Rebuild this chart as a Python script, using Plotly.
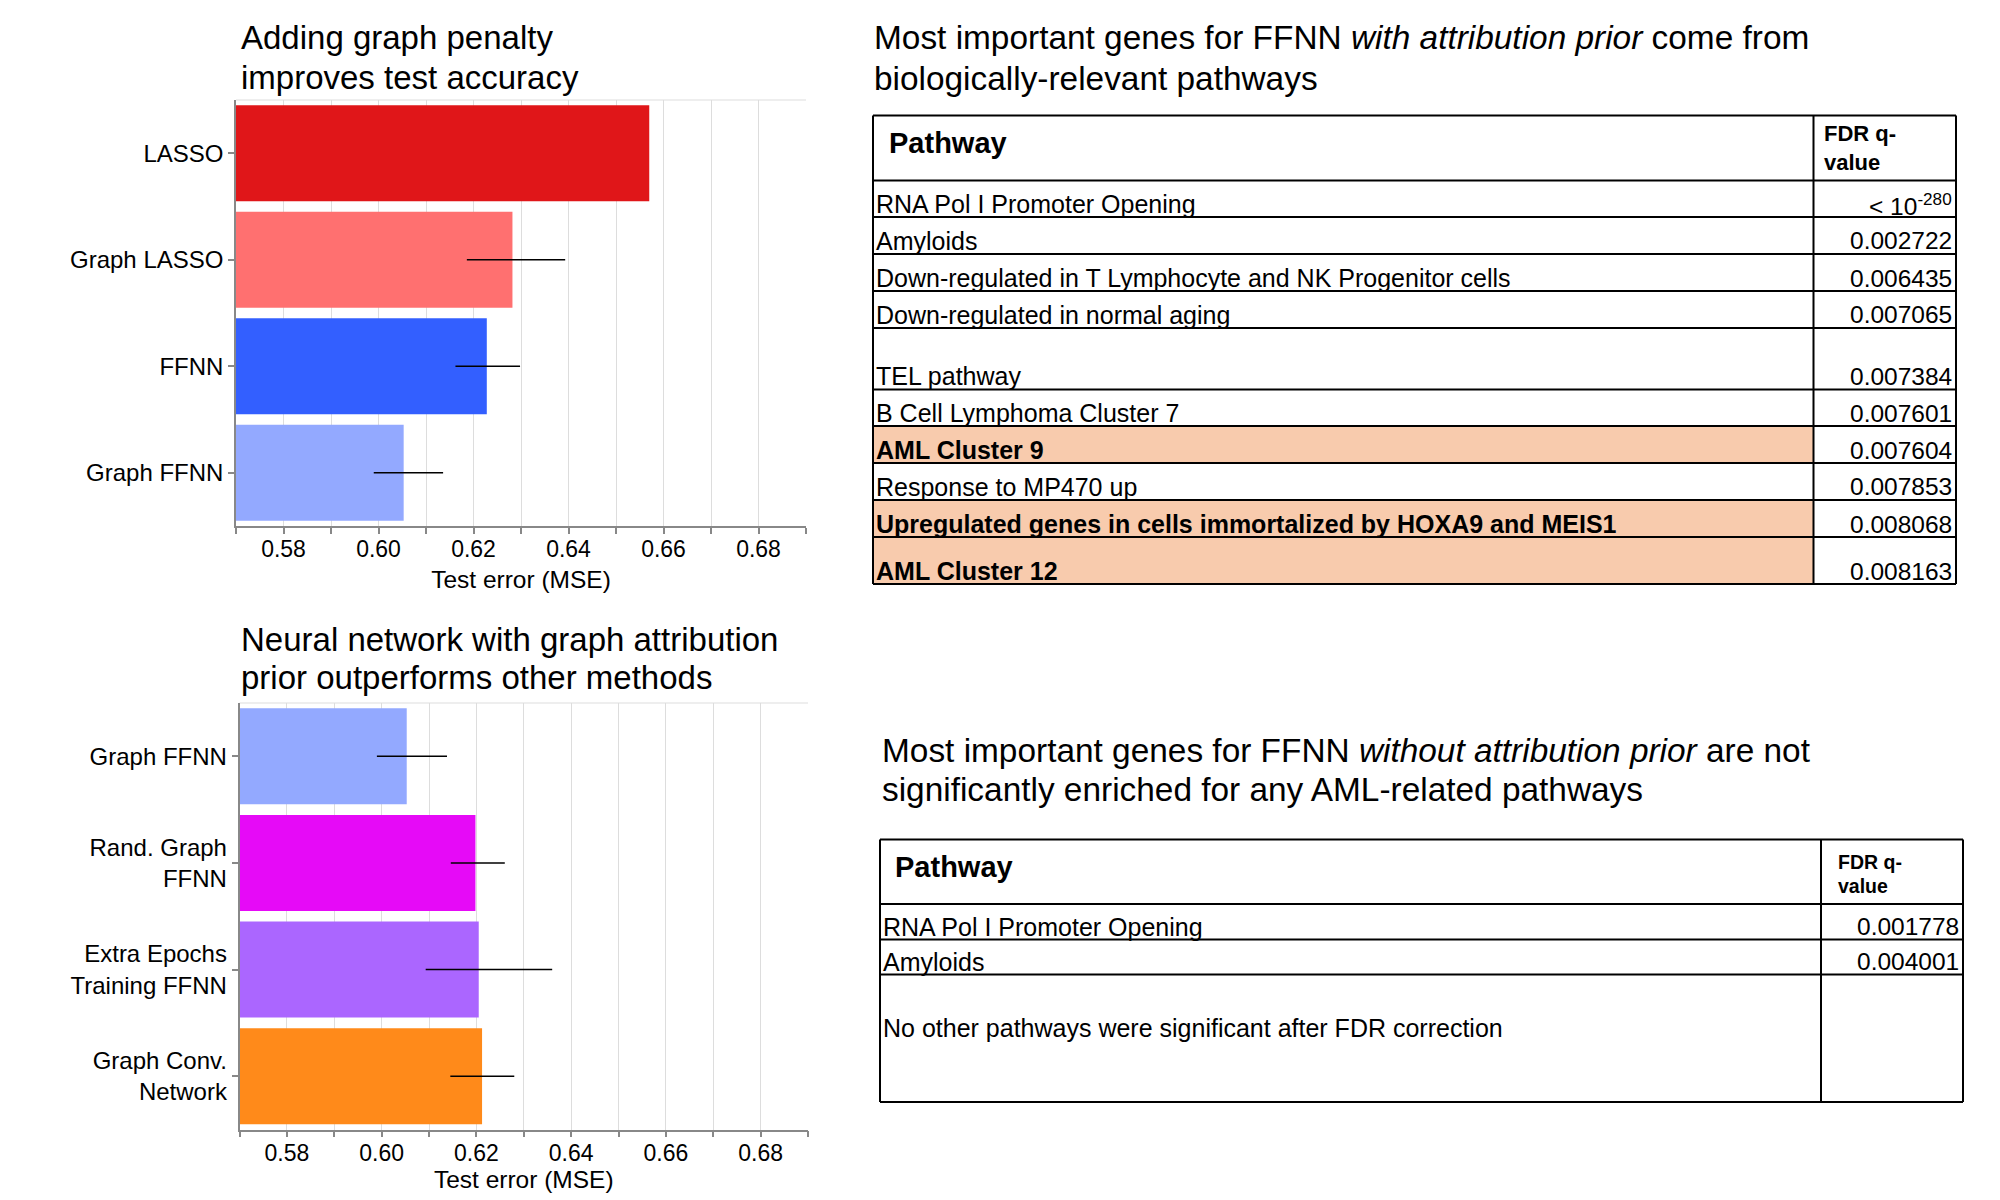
import plotly.graph_objects as go

W, H = 2000, 1200
FONT = "Liberation Sans, Arial, Helvetica, sans-serif"

# ---------------- data ----------------
top_categories = ["LASSO", "Graph LASSO", "FFNN", "Graph FFNN"]
top_mse = [0.6570, 0.6282, 0.6228, 0.6053]
top_err_low = [None, 0.6186, 0.6162, 0.5990]
top_err_high = [None, 0.6393, 0.6298, 0.6136]
top_colors = ["#E01619", "#FF7070", "#335FFF", "#93A9FF"]

bottom_categories = ["Graph FFNN", "Rand. Graph<br>FFNN", "Extra Epochs<br>Training FFNN", "Graph Conv.<br>Network"]
bottom_mse = [0.6053, 0.6198, 0.6205, 0.6212]
bottom_err_low = [0.5990, 0.6146, 0.6093, 0.6145]
bottom_err_high = [0.6138, 0.6260, 0.6360, 0.6280]
bottom_colors = ["#93A9FF", "#E60AF7", "#AB66FF", "#FF8A1A"]

x_ticks = [0.58, 0.60, 0.62, 0.64, 0.66, 0.68]

title_top = ["Adding graph penalty", "improves test accuracy"]
title_bottom = ["Neural network with graph attribution", "prior outperforms other methods"]

table1_title = ["Most important genes for FFNN <i>with attribution prior</i> come from",
                "biologically-relevant pathways"]
table1_pathways = [
    "RNA Pol I Promoter Opening",
    "Amyloids",
    "Down-regulated in T Lymphocyte and NK Progenitor cells",
    "Down-regulated in normal aging",
    "TEL pathway",
    "B Cell Lymphoma Cluster 7",
    "AML Cluster 9",
    "Response to MP470 up",
    "Upregulated genes in cells immortalized by HOXA9 and MEIS1",
    "AML Cluster 12",
]
table1_qvalues = ["< 10<sup>-280</sup>", "0.002722", "0.006435", "0.007065", "0.007384",
                  "0.007601", "0.007604", "0.007853", "0.008068", "0.008163"]
table1_aml = [False, False, False, False, False, False, True, False, True, True]

table2_title = ["Most important genes for FFNN <i>without attribution prior</i> are not",
                "significantly enriched for any AML-related pathways"]
table2_pathways = ["RNA Pol I Promoter Opening", "Amyloids"]
table2_qvalues = ["0.001778", "0.004001"]
table2_note = "No other pathways were significant after FDR correction"

header_pathway = "Pathway"
header_q = ["FDR q-", "value"]
axis_title = "Test error (MSE)"

# ---------------- helpers ----------------
def px(x):
    return x / W

def py(y):
    return 1 - y / H

def err_plus(vals, hi):
    return [None if h is None else h - v for v, h in zip(vals, hi)]

def err_minus(vals, lo):
    return [None if l is None else v - l for v, l in zip(vals, lo)]

fig = go.Figure()

fig.add_trace(go.Bar(
    x=top_mse, y=top_categories, orientation="h",
    marker=dict(color=top_colors, line=dict(width=0)),
    error_x=dict(type="data", symmetric=False,
                 array=err_plus(top_mse, top_err_high),
                 arrayminus=err_minus(top_mse, top_err_low),
                 color="black", thickness=1.6, width=0),
    xaxis="x", yaxis="y", showlegend=False, hoverinfo="x+y"))

fig.add_trace(go.Bar(
    x=bottom_mse, y=bottom_categories, orientation="h",
    marker=dict(color=bottom_colors, line=dict(width=0)),
    error_x=dict(type="data", symmetric=False,
                 array=err_plus(bottom_mse, bottom_err_high),
                 arrayminus=err_minus(bottom_mse, bottom_err_low),
                 color="black", thickness=1.6, width=0),
    xaxis="x2", yaxis="y2", showlegend=False, hoverinfo="x+y"))

def xaxis_cfg(domain, anchor, standoff):
    return dict(
        domain=domain, anchor=anchor, range=[0.57, 0.69],
        tickmode="array", tickvals=x_ticks, tickformat=".2f",
        ticks="outside", ticklen=6, tickcolor="#888", tickwidth=1.5,
        ticklabelstandoff=-4,
        showline=True, linecolor="#888", linewidth=1.5,
        showgrid=True, gridcolor="#dddddd", gridwidth=1,
        minor=dict(dtick=0.01, tick0=0.57, ticks="outside", ticklen=6,
                   tickcolor="#888", tickwidth=1.5, showgrid=True,
                   gridcolor="#dddddd", gridwidth=1),
        zeroline=False, fixedrange=True,
        tickfont=dict(family=FONT, size=23, color="black"),
        title=dict(text=axis_title, font=dict(family=FONT, size=24.5, color="black"),
                   standoff=standoff),
    )

def yaxis_cfg(domain, anchor, order):
    return dict(
        domain=domain, anchor=anchor, type="category",
        categoryorder="array", categoryarray=order[::-1],
        ticks="outside", ticklen=6, tickcolor="#888", tickwidth=1.5,
        showline=True, linecolor="#888", linewidth=1.5,
        showgrid=False, zeroline=False, fixedrange=True,
        tickfont=dict(family=FONT, size=24, color="black"),
    )

shapes = []
annotations = []

# light border on top of each plot area
for (l, t, r, b) in [(236, 100, 806, 526), (239.5, 703, 808, 1129.5)]:
    shapes.append(dict(type="line", xref="paper", yref="paper",
                       x0=px(l), x1=px(r), y0=py(t), y1=py(t),
                       line=dict(color="#dddddd", width=1), layer="below"))

def text(x, y, s, size, xanchor="left", bold=False):
    annotations.append(dict(
        xref="paper", yref="paper", x=px(x), y=py(y), text=(f"<b>{s}</b>" if bold else s),
        showarrow=False, xanchor=xanchor, yanchor="middle", align=xanchor,
        font=dict(family=FONT, size=size, color="black")))

# chart titles
for i, line in enumerate(title_top):
    text(239, 38 + 40 * i, line, 33)
for i, line in enumerate(title_bottom):
    text(239, 639 + 39 * i, line, 33)

def draw_table(left, div, right, ys, pathways, qvals, bold_rows, header_y,
               pathway_x, q_x, q_ys, q_size, title_lines, title_x, title_ys, note=None):
    # highlighted fills
    for i, b in enumerate(bold_rows):
        if b:
            shapes.append(dict(type="rect", xref="paper", yref="paper",
                               x0=px(left), x1=px(div), y0=py(ys[i + 1]), y1=py(ys[i + 2]),
                               fillcolor="#F8CBAD", line=dict(width=0), layer="below"))
    # horizontal lines
    for y in ys:
        shapes.append(dict(type="line", xref="paper", yref="paper",
                           x0=px(left), x1=px(right), y0=py(y), y1=py(y),
                           line=dict(color="black", width=2)))
    # vertical lines
    for x in (left, div, right):
        shapes.append(dict(type="line", xref="paper", yref="paper",
                           x0=px(x), x1=px(x), y0=py(ys[0]), y1=py(ys[-1]),
                           line=dict(color="black", width=2)))
    # header
    text(pathway_x, header_y, header_pathway, 29, bold=True)
    for s, yy in zip(header_q, q_ys):
        text(q_x, yy, s, q_size, bold=True)
    # rows
    for i, (p, q) in enumerate(zip(pathways, qvals)):
        bottom = ys[i + 2]
        b = bold_rows[i] if bold_rows else False
        text(left + 1, bottom - 13, p, 25, bold=b)
        text(right - 2, bottom - 13, q, 24.5, xanchor="right")
    if note:
        text(left + 1, note[1], note[0], 25)
    for s, yy in zip(title_lines, title_ys):
        text(title_x, yy, s, 33.4)

# table 1
t1_ys = [115.5, 180.5, 217, 254, 291, 328, 389.5, 426, 463, 500, 537, 584]
draw_table(873, 1813.5, 1956, t1_ys, table1_pathways, table1_qvalues, table1_aml,
           header_y=143, pathway_x=887, q_x=1822, q_ys=[133, 162], q_size=22,
           title_lines=table1_title, title_x=872, title_ys=[38, 79])

# table 2
t2_ys = [839.5, 904, 939.5, 974.5, 1102]
draw_table(880, 1821, 1963, t2_ys, table2_pathways, table2_qvalues, [False, False],
           header_y=867, pathway_x=893, q_x=1836, q_ys=[862, 886], q_size=19.5,
           title_lines=table2_title, title_x=880, title_ys=[750, 789],
           note=(table2_note, 1028))

fig.update_layout(
    width=W, height=H,
    margin=dict(l=0, r=0, t=0, b=0),
    paper_bgcolor="white", plot_bgcolor="white",
    bargap=0.1,
    font=dict(family=FONT, color="black"),
    xaxis=xaxis_cfg([px(236), px(806)], "y", 10),
    yaxis=yaxis_cfg([py(526), py(100)], "x", top_categories),
    xaxis2=xaxis_cfg([px(239.5), px(808)], "y2", 0),
    yaxis2=yaxis_cfg([py(1129.5), py(703)], "x2", bottom_categories),
    shapes=shapes,
    annotations=annotations,
)

fig.write_html("out.html")
